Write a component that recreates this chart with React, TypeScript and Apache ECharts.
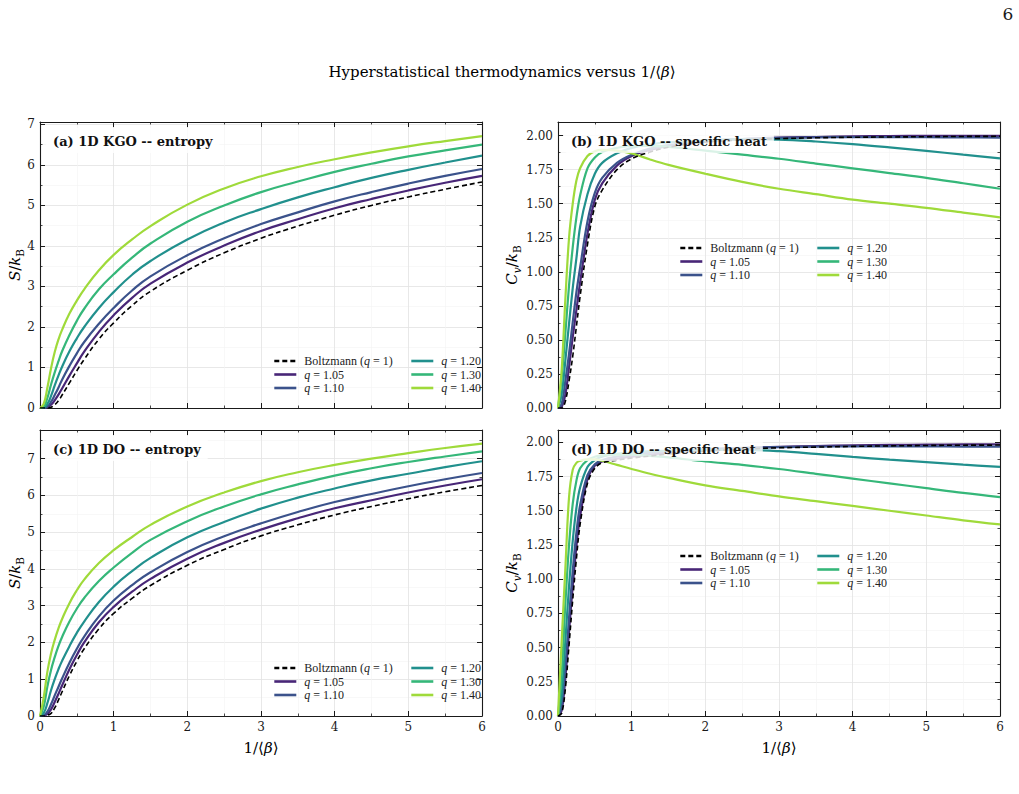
import React, { useEffect, useRef } from 'react';
import * as echarts from 'echarts';

// Sample temperatures 1/<beta> shared by every curve
const X = [0, 0.05, 0.1, 0.15, 0.2, 0.25, 0.3, 0.4, 0.5, 0.6, 0.8, 1.0, 1.25, 1.5, 2, 2.5, 3, 3.5, 4, 4.5, 5, 5.5, 6];

const SERIES_NAMES = ['Boltzmann (q=1)', 'q=1.05', 'q=1.10', 'q=1.20', 'q=1.30', 'q=1.40'];
const COLORS = ['#000000', '#482677', '#3b528b', '#21908d', '#35b779', '#9fda3a'];

// (a) 1D KGO entropy S/kB
const KGO_S_B = [0, 0, 0, 0.02, 0.08, 0.18, 0.32, 0.62, 0.92, 1.2, 1.7, 2.1, 2.53, 2.88, 3.4, 3.83, 4.19, 4.49, 4.76, 5.0, 5.21, 5.4, 5.58];
const KGO_S_105 = [0, 0, 0.02, 0.08, 0.19, 0.33, 0.48, 0.8, 1.1, 1.39, 1.88, 2.29, 2.72, 3.07, 3.59, 4.01, 4.37, 4.66, 4.93, 5.16, 5.37, 5.56, 5.73];
const KGO_S_110 = [0, 0, 0.04, 0.15, 0.32, 0.5, 0.7, 1.04, 1.35, 1.63, 2.08, 2.47, 2.9, 3.25, 3.77, 4.19, 4.54, 4.83, 5.1, 5.33, 5.54, 5.73, 5.9];
const KGO_S_120 = [0, 0.01, 0.1, 0.3, 0.56, 0.8, 1.02, 1.4, 1.72, 2.0, 2.47, 2.86, 3.29, 3.63, 4.16, 4.58, 4.91, 5.2, 5.45, 5.68, 5.88, 6.06, 6.23];
const KGO_S_130 = [0, 0.03, 0.25, 0.58, 0.88, 1.15, 1.4, 1.8, 2.15, 2.45, 2.93, 3.3, 3.71, 4.06, 4.6, 5.0, 5.33, 5.59, 5.83, 6.03, 6.21, 6.36, 6.5];
const KGO_S_140 = [0, 0.1, 0.5, 0.98, 1.38, 1.69, 1.93, 2.33, 2.65, 2.93, 3.4, 3.78, 4.16, 4.49, 5.02, 5.42, 5.72, 5.95, 6.14, 6.31, 6.46, 6.59, 6.71];

// (b) 1D KGO specific heat Cv/kB
const KGO_C_B = [0, 0, 0.05, 0.2, 0.38, 0.6, 0.82, 1.2, 1.48, 1.6, 1.75, 1.83, 1.88, 1.915, 1.952, 1.968, 1.978, 1.984, 1.988, 1.99, 1.992, 1.994, 1.995];
const KGO_C_105 = [0, 0.01, 0.1, 0.3, 0.52, 0.72, 0.92, 1.28, 1.53, 1.65, 1.78, 1.85, 1.895, 1.925, 1.958, 1.975, 1.985, 1.99, 1.995, 1.997, 1.998, 1.998, 1.998];
const KGO_C_110 = [0, 0.03, 0.2, 0.4, 0.63, 0.85, 1.03, 1.37, 1.58, 1.69, 1.8, 1.86, 1.905, 1.93, 1.96, 1.975, 1.983, 1.987, 1.989, 1.989, 1.988, 1.987, 1.985];
const KGO_C_120 = [0, 0.1, 0.35, 0.62, 0.88, 1.1, 1.33, 1.57, 1.72, 1.8, 1.87, 1.91, 1.935, 1.95, 1.965, 1.972, 1.97, 1.957, 1.938, 1.914, 1.888, 1.86, 1.833];
const KGO_C_130 = [0, 0.22, 0.55, 0.9, 1.18, 1.4, 1.56, 1.76, 1.84, 1.88, 1.91, 1.925, 1.925, 1.918, 1.89, 1.86, 1.83, 1.795, 1.76, 1.725, 1.69, 1.65, 1.61];
const KGO_C_140 = [0, 0.28, 0.8, 1.25, 1.5, 1.67, 1.76, 1.85, 1.885, 1.895, 1.89, 1.87, 1.825, 1.785, 1.72, 1.66, 1.61, 1.57, 1.53, 1.5, 1.47, 1.435, 1.4];

// (c) 1D DO entropy S/kB
const DO_S_B = [0, 0, 0.02, 0.07, 0.22, 0.43, 0.66, 1.1, 1.49, 1.83, 2.37, 2.79, 3.2, 3.55, 4.1, 4.53, 4.9, 5.2, 5.47, 5.7, 5.91, 6.1, 6.27];
const DO_S_105 = [0, 0.01, 0.06, 0.18, 0.38, 0.6, 0.83, 1.27, 1.66, 2.0, 2.55, 2.97, 3.38, 3.73, 4.28, 4.71, 5.07, 5.38, 5.65, 5.87, 6.08, 6.27, 6.44];
const DO_S_110 = [0, 0.02, 0.12, 0.32, 0.56, 0.79, 1.02, 1.45, 1.83, 2.16, 2.71, 3.14, 3.56, 3.91, 4.46, 4.89, 5.24, 5.55, 5.82, 6.04, 6.25, 6.44, 6.61];
const DO_S_120 = [0, 0.08, 0.35, 0.7, 1.0, 1.27, 1.5, 1.9, 2.26, 2.57, 3.1, 3.52, 3.94, 4.3, 4.86, 5.28, 5.64, 5.94, 6.19, 6.41, 6.59, 6.77, 6.93];
const DO_S_130 = [0, 0.25, 0.8, 1.25, 1.6, 1.9, 2.15, 2.57, 2.92, 3.21, 3.67, 4.04, 4.44, 4.79, 5.3, 5.7, 6.03, 6.3, 6.54, 6.74, 6.91, 7.06, 7.2];
const DO_S_140 = [0, 0.5, 1.2, 1.7, 2.07, 2.38, 2.64, 3.07, 3.42, 3.71, 4.16, 4.51, 4.87, 5.2, 5.7, 6.08, 6.39, 6.63, 6.83, 7.0, 7.15, 7.29, 7.41];

// (d) 1D DO specific heat Cv/kB
const DO_C_B = [0, 0.02, 0.2, 0.52, 0.85, 1.15, 1.4, 1.7, 1.81, 1.85, 1.87, 1.885, 1.9, 1.915, 1.935, 1.95, 1.96, 1.965, 1.97, 1.974, 1.977, 1.979, 1.98];
const DO_C_105 = [0, 0.04, 0.28, 0.62, 0.95, 1.24, 1.46, 1.73, 1.83, 1.86, 1.88, 1.895, 1.91, 1.925, 1.945, 1.958, 1.967, 1.973, 1.978, 1.981, 1.983, 1.985, 1.986];
const DO_C_110 = [0, 0.07, 0.36, 0.72, 1.06, 1.34, 1.54, 1.76, 1.84, 1.87, 1.895, 1.91, 1.925, 1.935, 1.95, 1.96, 1.965, 1.968, 1.97, 1.97, 1.97, 1.969, 1.968];
const DO_C_120 = [0, 0.15, 0.55, 0.95, 1.28, 1.52, 1.67, 1.82, 1.87, 1.895, 1.915, 1.925, 1.935, 1.94, 1.945, 1.945, 1.935, 1.915, 1.893, 1.873, 1.855, 1.837, 1.82];
const DO_C_130 = [0, 0.3, 0.82, 1.25, 1.55, 1.72, 1.81, 1.87, 1.895, 1.905, 1.91, 1.91, 1.9, 1.89, 1.86, 1.835, 1.805, 1.77, 1.735, 1.7, 1.665, 1.63, 1.6];
const DO_C_140 = [0, 0.55, 1.08, 1.6, 1.8, 1.85, 1.865, 1.875, 1.875, 1.865, 1.835, 1.805, 1.77, 1.74, 1.685, 1.645, 1.605, 1.57, 1.535, 1.5, 1.465, 1.43, 1.4];

const X_TICKS = [0, 1, 2, 3, 4, 5, 6];

const SERIF = "'DejaVu Serif', 'DejaVu Sans', serif";
const LEGEND_FONT = "'Liberation Serif', 'DejaVu Serif', serif";
const INK = '#1a1a1a';

type Panel = {
  label: string;
  curves: number[][];
  yMax: number;
  yInterval: number;
  decimals: number;
  xLabels: boolean;
  smooth: number;
  grid: { left: number; top: number; width: number; height: number };
  legendTop: number;
  legendLeft: [number, number];
};

const PANELS: Panel[] = [
  {
    label: '(a) 1D KGO -- entropy',
    curves: [KGO_S_B, KGO_S_105, KGO_S_110, KGO_S_120, KGO_S_130, KGO_S_140],
    yMax: 7.06, yInterval: 1, decimals: 0, xLabels: false, smooth: 0.5,
    grid: { left: 40, top: 122, width: 442, height: 286 },
    legendTop: 355, legendLeft: [273, 410],
  },
  {
    label: '(b) 1D KGO -- specific heat',
    curves: [KGO_C_B, KGO_C_105, KGO_C_110, KGO_C_120, KGO_C_130, KGO_C_140],
    yMax: 2.1, yInterval: 0.25, decimals: 2, xLabels: false, smooth: 0.35,
    grid: { left: 558, top: 122, width: 442, height: 286 },
    legendTop: 242, legendLeft: [679, 816],
  },
  {
    label: '(c) 1D DO -- entropy',
    curves: [DO_S_B, DO_S_105, DO_S_110, DO_S_120, DO_S_130, DO_S_140],
    yMax: 7.78, yInterval: 1, decimals: 0, xLabels: true, smooth: 0.5,
    grid: { left: 40, top: 430, width: 442, height: 286 },
    legendTop: 662, legendLeft: [273, 410],
  },
  {
    label: '(d) 1D DO -- specific heat',
    curves: [DO_C_B, DO_C_105, DO_C_110, DO_C_120, DO_C_130, DO_C_140],
    yMax: 2.09, yInterval: 0.25, decimals: 2, xLabels: true, smooth: 0.35,
    grid: { left: 558, top: 430, width: 442, height: 286 },
    legendTop: 550, legendLeft: [679, 816],
  },
];

const tickBase = (min: number, max: number, interval: number) => ({
  type: 'value' as const,
  min,
  max,
  interval,
  axisLine: { show: true, onZero: false, lineStyle: { color: INK, width: 1.1 } },
  axisTick: { show: true, inside: true, length: 5, lineStyle: { color: INK, width: 1 } },
  minorTick: { show: true, splitNumber: 2, length: 2.5, lineStyle: { color: INK, width: 0.8 } },
});

const legendFormatter = (name: string) => {
  if (name.startsWith('Boltzmann')) return '{r|Boltzmann (}{i|q}{r| = 1)}';
  return '{i|q}{r| = ' + name.slice(2) + '}';
};

const legendText = {
  fontFamily: LEGEND_FONT,
  fontSize: 12,
  color: '#222',
  padding: [0, 0, 0, 3],
  rich: {
    r: { fontFamily: LEGEND_FONT, fontSize: 12, color: '#222' },
    i: { fontFamily: LEGEND_FONT, fontSize: 12, fontStyle: 'italic', color: '#222' },
  },
};

const legendColumn = (left: number, top: number, names: string[]) => ({
  orient: 'vertical',
  left,
  top,
  padding: 0,
  itemWidth: 22,
  itemHeight: 10,
  itemGap: 1.5,
  selectedMode: false,
  data: names,
  formatter: legendFormatter,
  textStyle: legendText,
  // hide the marker glyph so only the line sample remains
  itemStyle: { opacity: 0 },
  lineStyle: { width: 2.6 },
});

function buildOption() {
  const grid: any[] = [];
  const xAxis: any[] = [];
  const yAxis: any[] = [];
  const series: any[] = [];
  const legend: any[] = [];
  const title: any[] = [];

  PANELS.forEach((p, i) => {
    grid.push({ ...p.grid, containLabel: false });

    xAxis.push({
      ...tickBase(X_TICKS[0], X_TICKS[X_TICKS.length - 1], 1),
      gridIndex: i,
      position: 'bottom',
      axisLabel: { show: p.xLabels, fontFamily: SERIF, fontSize: 12, color: INK, margin: 5 },
      splitLine: { show: true, lineStyle: { color: '#e2e2e2', width: 0.8 } },
      minorSplitLine: { show: true, lineStyle: { color: '#f3f3f3', width: 0.6 } },
    });
    xAxis.push({
      ...tickBase(X_TICKS[0], X_TICKS[X_TICKS.length - 1], 1),
      gridIndex: i,
      position: 'top',
      axisLabel: { show: false },
      splitLine: { show: false },
    });

    yAxis.push({
      ...tickBase(0, p.yMax, p.yInterval),
      gridIndex: i,
      position: 'left',
      axisLabel: {
        show: true,
        showMaxLabel: false,
        fontFamily: SERIF,
        fontSize: 12,
        color: INK,
        margin: 5,
        formatter: (v: number) => v.toFixed(p.decimals),
      },
      splitLine: { show: true, lineStyle: { color: '#e2e2e2', width: 0.8 } },
      minorSplitLine: { show: true, lineStyle: { color: '#f3f3f3', width: 0.6 } },
    });
    yAxis.push({
      ...tickBase(0, p.yMax, p.yInterval),
      gridIndex: i,
      position: 'right',
      axisLabel: { show: false },
      splitLine: { show: false },
    });

    // q curves first, Boltzmann reference drawn on top
    const order = [1, 2, 3, 4, 5, 0];
    order.forEach((k) => {
      const dashed = k === 0;
      series.push({
        type: 'line',
        name: SERIES_NAMES[k],
        xAxisIndex: 2 * i,
        yAxisIndex: 2 * i,
        data: X.map((x, j) => [x, p.curves[k][j]]),
        showSymbol: false,
        symbol: 'none',
        smooth: p.smooth,
        clip: true,
        color: COLORS[k],
        lineStyle: {
          color: COLORS[k],
          width: dashed ? 1.6 : 2.2,
          type: dashed ? [5, 3] : 'solid',
        },
        z: dashed ? 4 : 3,
      });
    });

    legend.push(legendColumn(p.legendLeft[0], p.legendTop, SERIES_NAMES.slice(0, 3)));
    legend.push(legendColumn(p.legendLeft[1], p.legendTop, SERIES_NAMES.slice(3)));

    title.push({
      text: p.label,
      left: p.grid.left + 6,
      top: p.grid.top + 6,
      padding: [5, 7, 4, 7],
      backgroundColor: 'rgba(255,255,255,0.82)',
      borderRadius: 4,
      textStyle: { fontFamily: SERIF, fontWeight: 'bold', fontSize: 13, color: '#111', lineHeight: 16 },
    });
  });

  const mathRich = (size: number) => ({
    n: { fontFamily: SERIF, fontSize: size, color: INK, lineHeight: size + 6 },
    it: { fontFamily: SERIF, fontSize: size, fontStyle: 'italic', color: INK, lineHeight: size + 6 },
    sub: { fontFamily: SERIF, fontSize: size * 0.7, color: INK, lineHeight: size * 0.8, verticalAlign: 'bottom' },
    subi: { fontFamily: SERIF, fontSize: size * 0.7, fontStyle: 'italic', color: INK, lineHeight: size * 0.8, verticalAlign: 'bottom' },
  });

  const yName = (text: string, x: number, y: number) => ({
    type: 'text',
    x,
    y,
    rotation: Math.PI / 2,
    style: { text, rich: mathRich(15), align: 'center', verticalAlign: 'middle' },
  });
  const xName = (x: number, y: number) => ({
    type: 'text',
    x,
    y,
    style: { text: '{n|1/⟨}{it|β}{n|⟩}', rich: mathRich(15), align: 'center', verticalAlign: 'middle' },
  });

  const graphic = [
    {
      type: 'text',
      x: 502,
      y: 72,
      style: {
        text: '{n|Hyperstatistical thermodynamics versus 1/⟨}{it|β}{n|⟩}',
        rich: mathRich(15),
        align: 'center',
        verticalAlign: 'middle',
      },
    },
    {
      type: 'text',
      x: 1008,
      y: 14,
      style: { text: '6', font: `17px ${SERIF}`, fill: INK, align: 'center', verticalAlign: 'middle' },
    },
    yName('{it|S}{n|/}{it|k}{sub|B}', 15, 265),
    yName('{it|S}{n|/}{it|k}{sub|B}', 15, 573),
    yName('{it|C}{subi|v}{n|/}{it|k}{sub|B}', 512, 265),
    yName('{it|C}{subi|v}{n|/}{it|k}{sub|B}', 512, 573),
    xName(261, 748),
    xName(779, 748),
  ];

  return {
    animation: false,
    backgroundColor: '#ffffff',
    textStyle: { fontFamily: SERIF },
    grid,
    xAxis,
    yAxis,
    series,
    legend,
    title,
    graphic,
  };
}

export default function App() {
  const ref = useRef<HTMLDivElement>(null);

  useEffect(() => {
    document.body.style.margin = '0';
    if (!ref.current) return;
    const chart = echarts.init(ref.current, null, { renderer: 'svg' });
    chart.setOption(buildOption() as any);
    return () => chart.dispose();
  }, []);

  return <div ref={ref} style={{ width: 1019, height: 794 }} />;
}
